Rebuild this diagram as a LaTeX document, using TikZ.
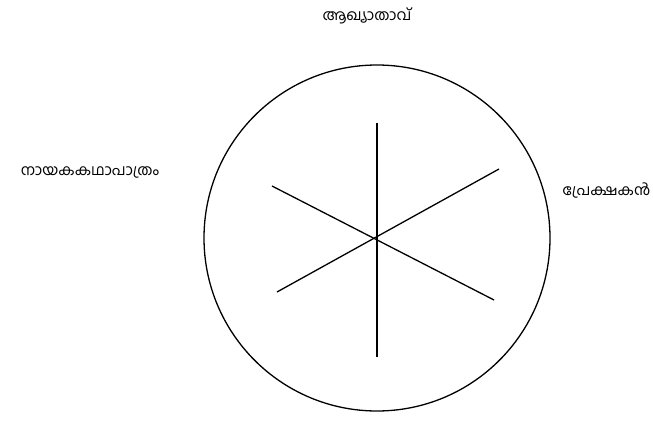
\documentclass[tikz,border=0pt]{standalone}
\usepackage{fontspec}
\newfontfamily\malfont[Script=Malayalam]{Hind Kochi}
\tikzset{lbl/.style={font=\malfont\fontsize{15}{17}\selectfont}}

\begin{document}
\begin{tikzpicture}[x=1pt,y=-1pt,line width=1.3pt]
\useasboundingbox (0,0) rectangle (653,441);
\coordinate (O) at (377,238);
\draw (O) circle (173);
\coordinate (T) at (377,123); \coordinate (B) at (377,357);
\coordinate (UL) at (272,186); \coordinate (LR) at (494,300);
\coordinate (UR) at (499,169); \coordinate (LL) at (277,292);
\draw (T) -- (B); \draw (UL) -- (LR); \draw (UR) -- (LL);
\node[lbl] (narr) at (367,16) {ആഖ്യാതാവ്};
\node[lbl] (hero) at (90,172) {നായകകഥാപാത്രം};
\node[lbl,anchor=east,inner sep=1pt] (aud) at (652,191) {പ്രേക്ഷകൻ};
\end{tikzpicture}
\end{document}
